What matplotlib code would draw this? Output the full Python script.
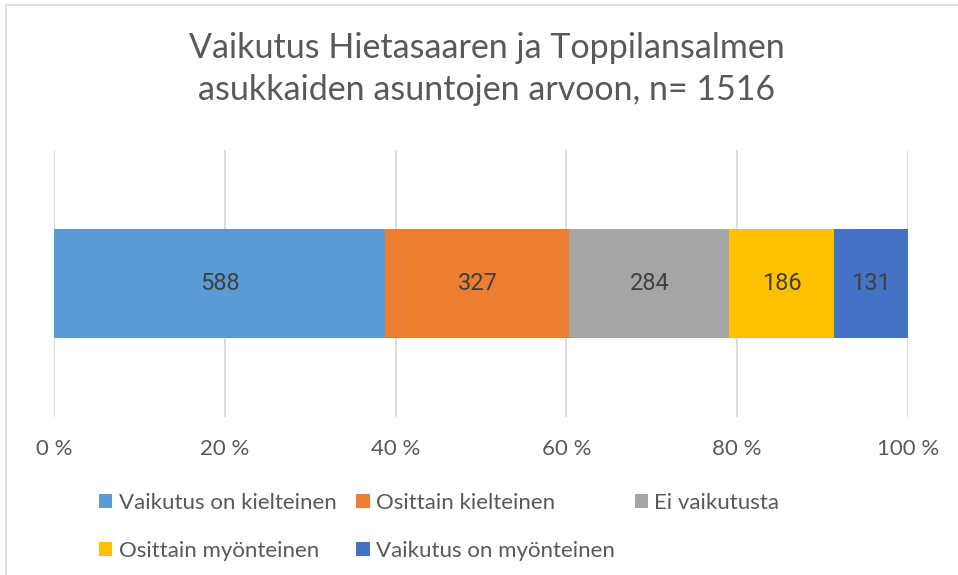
import matplotlib
matplotlib.use("Agg")
import matplotlib.pyplot as plt
from matplotlib.patches import Rectangle
import numpy as np

title_lines = ["Vaikutus Hietasaaren ja Toppilansalmen",
               "asukkaiden asuntojen arvoon, n= 1516"]
categories = ["Vaikutus on kielteinen", "Osittain kielteinen", "Ei vaikutusta",
              "Osittain myönteinen", "Vaikutus on myönteinen"]
counts = [588, 327, 284, 186, 131]
colors = ["#5B9BD5", "#ED7D31", "#A5A5A5", "#FFC000", "#4472C4"]
tick_values = [0, 20, 40, 60, 80, 100]
tick_labels = ["0 %", "20 %", "40 %", "60 %", "80 %", "100 %"]

W, H = 958, 575
fig = plt.figure(figsize=(W / 100, H / 100), dpi=100)
TXT = "#595959"
FONT = ["Lato", "DejaVu Sans"]

def fx(px):
    return px / W

def fy(py):
    return 1 - py / H

# chart area border (top and left visible)
fig.patches.append(Rectangle((fx(6), fy(H + 20)), fx(W + 20), fy(5) - fy(H + 20),
                             transform=fig.transFigure, fill=False,
                             edgecolor="#D9D9D9", lw=1.2))

ax = fig.add_axes([fx(54), fy(417), fx(908) - fx(54), fy(150) - fy(417)])
total = sum(counts)
shares = np.array(counts) / total * 100
left = 0.0
handles = []
for cat, c, s, col in zip(categories, counts, shares, colors):
    bars = ax.barh([0], [s], left=left, height=0.405, color=col, label=cat, zorder=3)
    ax.bar_label(bars, labels=[str(c)], label_type="center", color="#404040",
                 fontsize=17, family=["Roboto", "DejaVu Sans"], zorder=4)
    handles.append(bars)
    left += s

ax.set_xlim(0, 100)
ax.set_ylim(-0.5, 0.5)
ax.set_xticks(tick_values)
ax.set_xticklabels(tick_labels, fontsize=16, color=TXT, family=FONT)
ax.set_yticks([])
ax.tick_params(axis="x", length=0, pad=16)
ax.grid(axis="x", color="#D9D9D9", lw=1.3, zorder=0)
for sp in ax.spines.values():
    sp.set_visible(False)

# title lines
for txt, base in zip(title_lines, [58, 100]):
    fig.text(fx(487), fy(base), txt, ha="center", va="baseline",
             fontsize=24.5, color=TXT, family=FONT, fontweight="normal")

# legend: reorder so rows read left-to-right
order = [0, 3, 1, 4, 2]
leg = fig.legend([handles[i] for i in order], [categories[i] for i in order],
                 ncol=3, loc="upper left", bbox_to_anchor=(fx(99), fy(493)),
                 frameon=False, borderpad=0, borderaxespad=0,
                 handlelength=0.6, handleheight=0.6, handletextpad=0.28,
                 columnspacing=0.9, labelspacing=1.25,
                 prop={"family": FONT, "size": 16})
for t in leg.get_texts():
    t.set_color(TXT)

fig.savefig("out.png", dpi=100, facecolor="white")
